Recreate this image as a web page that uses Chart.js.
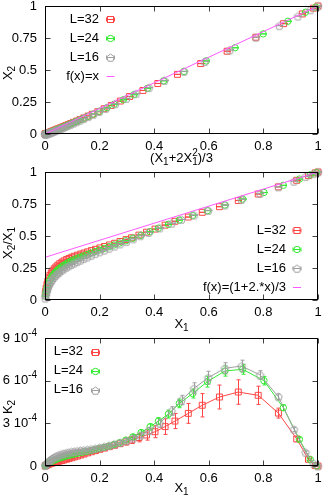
<!DOCTYPE html>
<html>
<head>
<meta charset="utf-8">
<script src="https://cdn.jsdelivr.net/npm/chart.js@4.4.1/dist/chart.umd.min.js"></script>
<style>
  html, body { margin: 0; padding: 0; background: #fff; }
  #wrap { position: relative; width: 332px; height: 498px; }
  canvas { position: absolute; left: 0; }
</style>
</head>
<body>
<div id="wrap">
  <canvas id="c1" width="332" height="166" style="top:0px"></canvas>
  <canvas id="c2" width="332" height="166" style="top:166px"></canvas>
  <canvas id="c3" width="332" height="172" style="top:326px"></canvas>
</div>
<script>
// X1 values per lattice size
const x1L32 = [0.001, 0.002, 0.004, 0.007, 0.010, 0.014, 0.018, 0.023, 0.028, 0.034,
  0.040, 0.047, 0.054, 0.062, 0.070, 0.079, 0.088, 0.098, 0.108, 0.119,
  0.131, 0.143, 0.156, 0.170, 0.185, 0.201, 0.218, 0.236, 0.255, 0.275,
  0.297, 0.317, 0.344, 0.372, 0.403, 0.440, 0.476, 0.525, 0.576, 0.639,
  0.708, 0.781, 0.855, 0.922, 0.965, 0.990, 1.000];
const x1L24 = [0.001, 0.003, 0.005, 0.008, 0.012, 0.016, 0.021, 0.026, 0.032, 0.038,
  0.045, 0.052, 0.060, 0.068, 0.077, 0.086, 0.096, 0.106, 0.117, 0.129,
  0.141, 0.154, 0.168, 0.183, 0.199, 0.216, 0.234, 0.253, 0.273, 0.296,
  0.322, 0.352, 0.385, 0.415, 0.452, 0.492, 0.541, 0.595, 0.659, 0.724,
  0.802, 0.873, 0.932, 0.972, 0.995];
const x1L16 = [0.001, 0.003, 0.006, 0.009, 0.013, 0.017, 0.022, 0.027, 0.033, 0.039,
  0.046, 0.053, 0.061, 0.069, 0.078, 0.087, 0.097, 0.107, 0.118, 0.130,
  0.142, 0.155, 0.169, 0.184, 0.200, 0.217, 0.235, 0.254, 0.275, 0.298,
  0.323, 0.350, 0.380, 0.420, 0.464, 0.500, 0.546, 0.598, 0.659, 0.720,
  0.788, 0.855, 0.912, 0.955, 0.983, 1.000];

// X2/X1
const ratioL32 = [0.05, 0.065, 0.09, 0.12, 0.145, 0.172, 0.193, 0.212, 0.228, 0.244,
  0.258, 0.272, 0.284, 0.296, 0.306, 0.316, 0.325, 0.334, 0.342, 0.350,
  0.359, 0.367, 0.376, 0.386, 0.396, 0.407, 0.418, 0.430, 0.443, 0.457,
  0.472, 0.486, 0.507, 0.530, 0.554, 0.585, 0.615, 0.648, 0.685, 0.729,
  0.777, 0.828, 0.884, 0.935, 0.972, 0.993, 1.000];
const ratioL24 = [0.03, 0.055, 0.075, 0.10, 0.125, 0.147, 0.168, 0.186, 0.203, 0.218,
  0.233, 0.246, 0.259, 0.271, 0.283, 0.294, 0.305, 0.315, 0.325, 0.335,
  0.345, 0.355, 0.366, 0.378, 0.390, 0.403, 0.416, 0.430, 0.445, 0.463,
  0.483, 0.506, 0.534, 0.560, 0.591, 0.624, 0.660, 0.698, 0.742, 0.789,
  0.840, 0.896, 0.945, 0.978, 0.996];
const ratioL16 = [0.015, 0.037, 0.063, 0.085, 0.106, 0.126, 0.146, 0.162, 0.178, 0.192,
  0.206, 0.219, 0.232, 0.244, 0.256, 0.267, 0.278, 0.289, 0.300, 0.312,
  0.324, 0.336, 0.349, 0.362, 0.376, 0.390, 0.405, 0.421, 0.438, 0.457,
  0.478, 0.502, 0.528, 0.563, 0.600, 0.630, 0.664, 0.700, 0.742, 0.786,
  0.833, 0.884, 0.928, 0.964, 0.987, 1.000];

// K2 in units of 1e-4, with error bars
const k2L32 = [0.01, 0.02, 0.04, 0.07, 0.10, 0.13, 0.16, 0.19, 0.22, 0.25,
  0.28, 0.31, 0.35, 0.39, 0.43, 0.48, 0.53, 0.58, 0.64, 0.70,
  0.77, 0.84, 0.92, 1.00, 1.08, 1.17, 1.26, 1.36, 1.46, 1.57,
  1.70, 1.83, 2.00, 2.18, 2.41, 2.77, 3.16, 3.70, 4.27, 4.85,
  5.20, 4.97, 3.72, 1.90, 0.47, 0.03, 0.00];
const k2L24 = [0.02, 0.06, 0.10, 0.15, 0.20, 0.25, 0.30, 0.35, 0.40, 0.45,
  0.50, 0.55, 0.60, 0.65, 0.70, 0.74, 0.79, 0.83, 0.88, 0.93,
  0.98, 1.03, 1.09, 1.15, 1.22, 1.30, 1.40, 1.51, 1.64, 1.82,
  2.05, 2.35, 2.75, 3.15, 3.65, 4.40, 5.10, 5.93, 6.68, 6.80,
  6.00, 4.10, 1.87, 0.45, 0.00];
const k2L16 = [0.03, 0.09, 0.17, 0.24, 0.32, 0.39, 0.46, 0.53, 0.60, 0.66,
  0.72, 0.78, 0.83, 0.88, 0.92, 0.96, 1.00, 1.03, 1.06, 1.09,
  1.12, 1.15, 1.19, 1.24, 1.30, 1.37, 1.45, 1.54, 1.65, 1.78,
  1.95, 2.17, 2.48, 3.00, 3.87, 4.64, 5.46, 6.21, 6.87, 7.03,
  6.40, 4.87, 2.58, 0.96, 0.19, 0.00];
const errL32 = [0.01, 0.01, 0.02, 0.02, 0.03, 0.03, 0.04, 0.04, 0.05, 0.05,
  0.06, 0.06, 0.07, 0.07, 0.08, 0.08, 0.09, 0.09, 0.10, 0.10,
  0.11, 0.12, 0.12, 0.13, 0.14, 0.15, 0.16, 0.17, 0.18, 0.20,
  0.22, 0.25, 0.30, 0.36, 0.42, 0.55, 0.53, 0.70, 0.82, 0.84,
  0.86, 0.64, 0.35, 0.18, 0.10, 0.05, 0.00];
const errL24 = [0.01, 0.01, 0.02, 0.02, 0.03, 0.03, 0.03, 0.04, 0.04, 0.04,
  0.05, 0.05, 0.05, 0.06, 0.06, 0.06, 0.07, 0.07, 0.07, 0.08,
  0.08, 0.09, 0.09, 0.10, 0.10, 0.11, 0.12, 0.13, 0.14, 0.15,
  0.17, 0.19, 0.22, 0.25, 0.28, 0.30, 0.32, 0.38, 0.36, 0.35,
  0.30, 0.20, 0.12, 0.06, 0.00];
const errL16 = [0.01, 0.01, 0.02, 0.02, 0.03, 0.03, 0.04, 0.04, 0.05, 0.05,
  0.05, 0.06, 0.06, 0.06, 0.07, 0.07, 0.07, 0.08, 0.08, 0.08,
  0.09, 0.09, 0.10, 0.10, 0.11, 0.11, 0.12, 0.13, 0.14, 0.15,
  0.17, 0.20, 0.23, 0.28, 0.30, 0.33, 0.39, 0.45, 0.39, 0.41,
  0.30, 0.20, 0.15, 0.10, 0.05, 0.00];

// reference lines f(x)=x and f(x)=(1+2x)/3
const fitX = [0, 1];
const fit1Y = [0, 1];
const fit2Y = [0.3333, 1];

const seriesLabels = ["L=32", "L=24", "L=16"];
const k2TickLabels = ["0", "3 10^{-4}", "6 10^{-4}", "9 10^{-4}"];

const RED = "rgb(255,70,70)", GREEN = "rgb(50,235,50)", GRAY = "rgb(160,160,160)", MAGENTA = "rgb(255,90,255)";
const FAMILY = '"Liberation Sans", Arial, sans-serif';
const FS = 13, FS_SMALL = 10;

function pentagon(color) {
  const c = document.createElement("canvas");
  c.width = 11; c.height = 11;
  const g = c.getContext("2d");
  g.strokeStyle = color; g.lineWidth = 1;
  g.beginPath();
  for (let i = 0; i < 5; i++) {
    const a = -Math.PI / 2 + i * 2 * Math.PI / 5;
    const px = 5.5 + 4 * Math.cos(a), py = 6 + 4 * Math.sin(a);
    i ? g.lineTo(px, py) : g.moveTo(px, py);
  }
  g.closePath(); g.stroke();
  return c;
}
const penta = pentagon(GRAY);

function parseRich(s) {
  const out = [];
  let i = 0;
  const grab = () => {
    if (s[i] === "{") { const j = s.indexOf("}", i); const t = s.slice(i + 1, j); i = j + 1; return t; }
    return s[i++];
  };
  while (i < s.length) {
    const ch = s[i];
    if (ch === "_" || ch === "^") {
      i++;
      const key = ch === "_" ? "sub" : "sup";
      const t = grab();
      const last = out[out.length - 1];
      if (last && last.kind === "script" && !last[key]) last[key] = t;
      else out.push({ kind: "script", [key]: t });
    } else {
      if (!out.length || out[out.length - 1].kind !== "n") out.push({ kind: "n", t: "" });
      out[out.length - 1].t += ch; i++;
    }
  }
  return out;
}

function drawRich(ctx, str, x, y, align) {
  const segs = parseRich(str);
  const big = FS + "px " + FAMILY, small = FS_SMALL + "px " + FAMILY;
  let w = 0;
  segs.forEach(s => {
    if (s.kind === "n") { ctx.font = big; s.w = ctx.measureText(s.t).width; }
    else {
      ctx.font = small;
      s.w = Math.max(s.sub ? ctx.measureText(s.sub).width : 0, s.sup ? ctx.measureText(s.sup).width : 0);
    }
    w += s.w;
  });
  let cx = align === "right" ? x - w : align === "center" ? x - w / 2 : x;
  ctx.fillStyle = "#000"; ctx.textAlign = "left"; ctx.textBaseline = "middle";
  segs.forEach(s => {
    if (s.kind === "n") { ctx.font = big; ctx.fillText(s.t, cx, y); }
    else {
      ctx.font = small;
      if (s.sub) ctx.fillText(s.sub, cx, y + 4);
      if (s.sup) ctx.fillText(s.sup, cx, y - 5);
    }
    cx += s.w;
  });
}

function drawMarker(ctx, ds, x, y) {
  ctx.strokeStyle = ds.borderColor; ctx.lineWidth = 1;
  if (ds.pointStyle === "rect") {
    ctx.strokeRect(x - 3, y - 3, 6, 6);
  } else if (ds.pointStyle === "circle") {
    ctx.beginPath(); ctx.arc(x, y, ds.pointRadius, 0, Math.PI * 2); ctx.stroke();
  } else if (ds.pointStyle instanceof HTMLCanvasElement) {
    ctx.drawImage(ds.pointStyle, x - ds.pointStyle.width / 2, y - ds.pointStyle.height / 2);
  }
}

const errorBars = {
  id: "errorBars",
  afterDatasetDraw(chart, args) {
    const ds = chart.data.datasets[args.index];
    if (!ds.errors) return;
    const { ctx, scales: { x, y } } = chart;
    ctx.save();
    ctx.strokeStyle = ds.borderColor; ctx.lineWidth = 1;
    ctx.beginPath();
    ds.data.forEach((p, i) => {
      const e = ds.errors[i];
      const px = Math.round(x.getPixelForValue(p.x)) + 0.5;
      const y1 = y.getPixelForValue(p.y - e), y2 = y.getPixelForValue(p.y + e);
      ctx.moveTo(px, y1); ctx.lineTo(px, y2);
      ctx.moveTo(px - ds.cap, y1); ctx.lineTo(px + ds.cap, y1);
      ctx.moveTo(px - ds.cap, y2); ctx.lineTo(px + ds.cap, y2);
    });
    ctx.stroke();
    ctx.restore();
  }
};

function framePlugin(p) {
  return {
    id: "frame",
    afterDraw(chart) {
      const { ctx, chartArea: a, scales: { x, y } } = chart;
      ctx.save();
      const L = Math.round(a.left) + 0.5, R = Math.round(a.right) - 0.5;
      const T = Math.round(a.top) + 0.5, B = Math.round(a.bottom) - 0.5;
      ctx.strokeStyle = "#444"; ctx.lineWidth = 1;
      ctx.beginPath();
      x.ticks.forEach(t => {
        const px = Math.round(x.getPixelForValue(t.value)) + 0.5;
        ctx.moveTo(px, B); ctx.lineTo(px, B - 5);
        ctx.moveTo(px, T); ctx.lineTo(px, T + 5);
      });
      y.ticks.forEach(t => {
        const py = Math.round(y.getPixelForValue(t.value)) + 0.5;
        ctx.moveTo(L, py); ctx.lineTo(L + 5, py);
        ctx.moveTo(R, py); ctx.lineTo(R - 5, py);
      });
      ctx.stroke();
      ctx.strokeStyle = "#000";
      ctx.strokeRect(L, T, R - L, B - T);

      if (p.yLabels) {
        y.ticks.forEach((t, i) => drawRich(ctx, p.yLabels[i], a.left - 8, y.getPixelForValue(t.value), "right"));
      }
      drawRich(ctx, p.xTitle, (a.left + a.right) / 2, p.xTitleY, "center");
      ctx.save();
      ctx.translate(8, p.yTitleY);
      ctx.rotate(-Math.PI / 2);
      drawRich(ctx, p.yTitle, 0, 0, "center");
      ctx.restore();

      const ds = chart.data.datasets;
      p.legend.items.forEach((idx, r) => {
        const d = ds[idx], ly = p.legend.y0 + r * 18.9, sx = p.legend.sx;
        drawRich(ctx, d.label, p.legend.tx, ly, "right");
        ctx.strokeStyle = d.borderColor; ctx.lineWidth = 1;
        const yy = Math.round(ly) + 0.5;
        if (d.errors) {
          ctx.beginPath();
          ctx.moveTo(sx - 4, yy); ctx.lineTo(sx + 4, yy);
          ctx.moveTo(sx - 4, yy - 2); ctx.lineTo(sx - 4, yy + 2);
          ctx.moveTo(sx + 4, yy - 2); ctx.lineTo(sx + 4, yy + 2);
          ctx.stroke();
          drawMarker(ctx, d, sx, yy);
        } else {
          ctx.beginPath(); ctx.moveTo(sx - 4, yy); ctx.lineTo(sx + 4, yy); ctx.stroke();
        }
      });
      ctx.restore();
    }
  };
}

function seriesSet(xs, ys, errs, lineOn) {
  const styles = [
    { color: RED, pointStyle: "rect", pointRadius: 4.2 },
    { color: GREEN, pointStyle: "circle", pointRadius: 3.2 },
    { color: GRAY, pointStyle: penta, pointRadius: 4 }
  ];
  return styles.map((st, k) => ({
    label: seriesLabels[k],
    data: xs[k].map((v, i) => ({ x: v, y: ys[k][i] })),
    errors: errs[k],
    cap: lineOn ? 2 : 3.5,
    showLine: lineOn,
    borderColor: st.color,
    borderWidth: 1,
    backgroundColor: "transparent",
    pointStyle: st.pointStyle,
    pointRadius: st.pointRadius,
    pointBorderWidth: 1,
    pointBackgroundColor: "transparent",
    clip: false,
    order: 4 - k
  }));
}

function fitSet(label, ys) {
  return {
    label: label,
    data: fitX.map((v, i) => ({ x: v, y: ys[i] })),
    showLine: true,
    borderColor: MAGENTA,
    borderWidth: 1,
    pointRadius: 0,
    order: 0
  };
}

const tickText = v => String(+v.toFixed(2));

function makeChart(id, datasets, yMax, yStep, canvasH, padTop, showYTicks, frame) {
  return new Chart(document.getElementById(id), {
    type: "scatter",
    data: { datasets: datasets },
    options: {
      responsive: false,
      animation: false,
      devicePixelRatio: 1,
      layout: { padding: { top: padTop, right: 14, left: 0, bottom: 0 } },
      plugins: { legend: { display: false }, tooltip: { enabled: false } },
      scales: {
        x: {
          type: "linear", min: 0, max: 1,
          grid: { display: false, drawTicks: false },
          border: { display: false },
          ticks: { stepSize: 0.2, padding: 5, color: "#000", maxRotation: 0, autoSkip: false,
                   font: { family: FAMILY, size: FS }, callback: tickText },
          afterFit: s => { s.height = canvasH - padTop - 128; s.paddingLeft = 0; s.paddingRight = 0; }
        },
        y: {
          type: "linear", min: 0, max: yMax,
          grid: { display: false, drawTicks: false },
          border: { display: false },
          ticks: { display: showYTicks, stepSize: yStep, padding: 8, color: "#000",
                   font: { family: FAMILY, size: FS }, callback: tickText },
          afterFit: s => { s.width = 45; s.paddingTop = 0; s.paddingBottom = 0; }
        }
      }
    },
    plugins: [errorBars, framePlugin(frame)]
  });
}

const zeros = a => a.map(() => 0);
const xs = [x1L32, x1L24, x1L16];
const ratios = [ratioL32, ratioL24, ratioL16];

// panel 1: X2 = X1 * (X2/X1) against (X1 + 2 X1^2)/3
const p1x = xs.map(a => a.map(v => (v + 2 * v * v) / 3));
const p1y = xs.map((a, k) => a.map((v, i) => v * ratios[k][i]));
makeChart("c1",
  seriesSet(p1x, p1y, xs.map(zeros), false).concat([fitSet("f(x)=x", fit1Y)]),
  1, 0.25, 166, 6, true,
  { xTitle: "(X_1+2X_1^2)/3", xTitleY: 158, yTitle: "X_2", yTitleY: 73,
    legend: { items: [0, 1, 2, 3], tx: 99, sx: 110.5, y0: 19.3 } });

makeChart("c2",
  seriesSet(xs, ratios, xs.map(zeros), false).concat([fitSet("f(x)=(1+2.*x)/3", fit2Y)]),
  1, 0.25, 166, 6, true,
  { xTitle: "X_1", xTitleY: 158, yTitle: "X_2/X_1", yTitleY: 77,
    legend: { items: [0, 1, 2, 3], tx: 286, sx: 297, y0: 64.3 } });

makeChart("c3",
  seriesSet(xs, [k2L32, k2L24, k2L16], [errL32, errL24, errL16], true),
  9, 3, 172, 12, false,
  { xTitle: "X_1", xTitleY: 162.5, yTitle: "K_2", yTitleY: 81, yLabels: k2TickLabels,
    legend: { items: [0, 1, 2], tx: 83, sx: 95.5, y0: 25.7 } });
</script>
</body>
</html>
